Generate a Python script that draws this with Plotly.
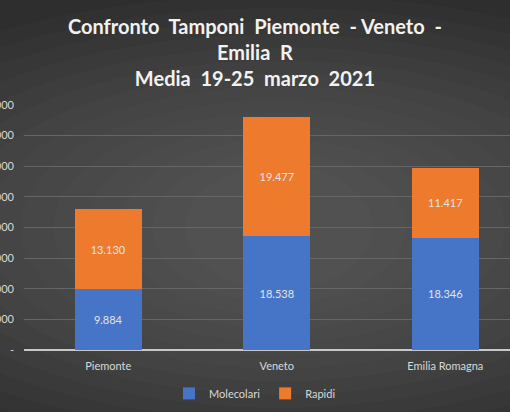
import plotly.graph_objects as go

categories = ["Piemonte", "Veneto", "Emilia Romagna"]
molecolari = [9884, 18538, 18346]
rapidi = [13130, 19477, 11417]
ytick_vals = [0, 5000, 10000, 15000, 20000, 25000, 30000, 35000, 40000]
ytick_text = ["-", "5.000", "10.000", "15.000", "20.000", "25.000", "30.000", "35.000", "40.000"]
title_lines = ["Confronto  Tamponi  Piemonte  - Veneto  -", "Emilia  R", "Media  19-25  marzo  2021"]

fig = go.Figure()
fig.add_bar(x=categories, y=molecolari, name="Molecolari", width=0.4,
            marker=dict(color="#4675C8", line=dict(width=0)),
            texttemplate="%{y:,}", textposition="inside", insidetextanchor="middle",
            textfont=dict(color="#e4e4e4", size=11, family="Lato"))
fig.add_bar(x=categories, y=rapidi, name="Rapidi", width=0.4,
            marker=dict(color="#EE7A2D", line=dict(width=0)),
            texttemplate="%{y:,}", textposition="inside", insidetextanchor="middle",
            textfont=dict(color="#e4e4e4", size=11, family="Lato"))

# radial-ish background glow
shapes = []
n = 14
for i in range(n):
    f = i / n
    shapes.append(dict(type="circle", xref="paper", yref="paper", layer="below",
                       x0=-0.55 + f * 0.95, x1=1.6 - f * 0.95,
                       y0=-0.45 + f * 0.75, y1=1.45 - f * 0.75,
                       fillcolor="rgba(255,255,255,0.016)", line=dict(width=0)))

fig.add_annotation(text="<br>".join(title_lines), xref="paper", yref="paper",
                   x=0.5 - 24 / 486 / 2, y=1.0, xanchor="center", yanchor="bottom",
                   yshift=13, showarrow=False,
                   font=dict(family="Lato", size=20, color="#f2f2f2", weight="bold"))

fig.update_layout(
    width=510, height=412,
    barmode="stack", separators=",.",
    paper_bgcolor="#2e2e2e", plot_bgcolor="rgba(0,0,0,0)",
    margin=dict(l=24, r=0, t=105, b=62, autoexpand=False),
    xaxis=dict(range=[-0.5, 2.384], showgrid=False, zeroline=False, showline=False,
               ticks="", tickfont=dict(family="Lato", size=11, color="#d9d9d9"),
               ticklabelstandoff=8, automargin=False),
    yaxis=dict(range=[0, 40000], tickvals=ytick_vals, ticktext=ytick_text,
               showgrid=True, gridcolor="#666666", gridwidth=1,
               zeroline=True, zerolinecolor="#c8c8c8", zerolinewidth=1.5,
               showline=False, ticks="", automargin=False,
               tickfont=dict(family="Lato", size=11, color="#d9d9d9"),
               ticklabelstandoff=9),
    legend=dict(orientation="h", x=0.5, xref="container", xanchor="center",
                y=0.01, yref="container", yanchor="bottom",
                font=dict(family="Lato", size=11, color="#d9d9d9"),
                bgcolor="rgba(0,0,0,0)", itemwidth=30, traceorder="normal"),
    shapes=shapes,
    showlegend=True,
)
fig.write_html("out.html", config={"displayModeBar": False},
               post_script="document.body.style.margin='0';document.body.style.overflow='hidden';")
